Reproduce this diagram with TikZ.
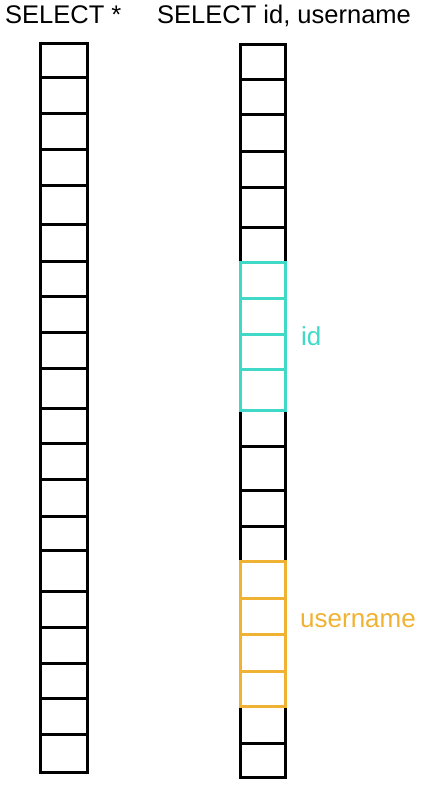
\documentclass[tikz,border=0pt]{standalone}
\usepackage{fontspec}
\setmainfont{Liberation Sans}
\definecolor{idcyan}{RGB}{64,217,200}
\definecolor{unorange}{RGB}{240,178,50}
\begin{document}
\begin{tikzpicture}[x=1pt,y=-1pt,
  cell/.style={draw=black,line width=3pt},
  idcell/.style={draw=idcyan,line width=3pt},
  uncell/.style={draw=unorange,line width=3pt},
  lbl/.style={anchor=base west,inner sep=0pt,font=\fontsize{25.5}{30}\selectfont},
  sidelbl/.style={anchor=base west,inner sep=0pt,font=\fontsize{26}{30}\selectfont}]
\useasboundingbox (0,0) rectangle (422,788);
% left column: 20 cells
\foreach \a/\b in {43.5/77,77/113,113/149,149/185,185/224,224/261,261/296,296/332,332/368,368/408,408/443,443/479,479/516,516/550,550/591,591/627,627/663,663/698,698/734,734/772.5}
  \draw[cell] (40.5,\a) rectangle (87.5,\b);
% right column black cells
\foreach \a/\b in {44.5/79,79/114,114/151,151/187,187/227,227/262,410/446,446/490,490/526,526/561,706/743,743/777.5}
  \draw[cell] (240.5,\a) rectangle (285.5,\b);
% id cells
\foreach \a/\b in {262/298,298/334,334/369,369/410}
  \draw[idcell] (240.5,\a) rectangle (285.5,\b);
% username cells
\foreach \a/\b in {561/598,598/634,634/671,671/706}
  \draw[uncell] (240.5,\a) rectangle (285.5,\b);
\node[lbl] (t1) at (5,23) {SELECT *};
\node[lbl] (t2) at (157,23) {SELECT id, username};
\node[sidelbl,text=idcyan] (lid) at (301,345) {id};
\node[sidelbl,text=unorange] (lun) at (300,627) {username};
\end{tikzpicture}
\end{document}
